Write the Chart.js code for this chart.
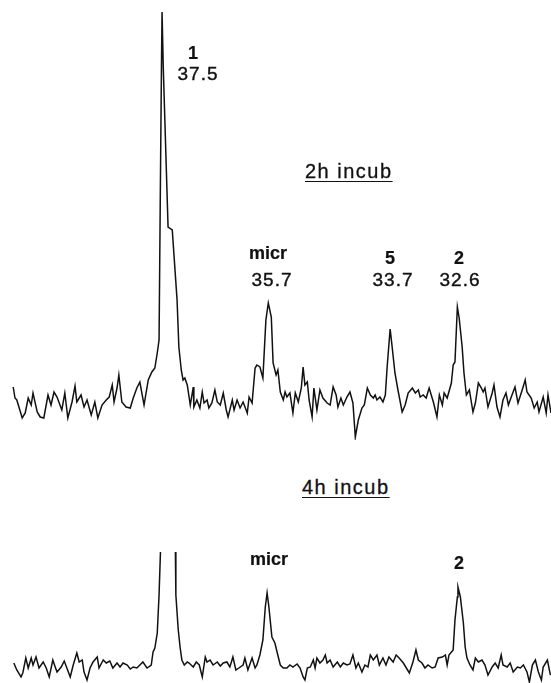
<!DOCTYPE html>
<html>
<head>
<meta charset="utf-8">
<script src="https://cdn.jsdelivr.net/npm/chart.js@4/dist/chart.umd.min.js"></script>
<style>
  body { margin: 0; background: #fff; }
  #wrap { position: relative; width: 551px; height: 683px; overflow: hidden; font-family: "Liberation Sans", Arial, sans-serif; color: #111; }
  canvas { position: absolute; left: 0; }
  #top { top: 0; }
  #bottom { top: 552px; }
  .lab { position: absolute; font-size: 19px; line-height: 19px; letter-spacing: 1px; text-align: center; width: 80px; white-space: nowrap; -webkit-text-stroke: 0.4px #111; }
  .b { font-weight: bold; font-size: 18px; letter-spacing: 0; -webkit-text-stroke: 0.2px #111; }
  .title { position: absolute; font-size: 20px; line-height: 20px; letter-spacing: 1.5px; text-decoration: underline; text-decoration-thickness: 1px; text-underline-offset: 3px; white-space: nowrap; -webkit-text-stroke: 0.3px #111; }
</style>
</head>
<body>
<div id="wrap">
  <canvas id="top" width="551" height="440"></canvas>
  <canvas id="bottom" width="551" height="131"></canvas>

  <div class="lab b" style="left:153px;top:44px">1</div>
  <div class="lab" style="left:158px;top:64px">37.5</div>
  <div class="title" style="left:305px;top:161px">2h incub</div>
  <div class="lab b" style="left:228px;top:244px">micr</div>
  <div class="lab" style="left:232px;top:270px">35.7</div>
  <div class="lab b" style="left:350px;top:249px">5</div>
  <div class="lab" style="left:353px;top:270px">33.7</div>
  <div class="lab b" style="left:419px;top:249px">2</div>
  <div class="lab" style="left:420px;top:270px">32.6</div>

  <div class="title" style="left:302px;top:477px">4h incub</div>
  <div class="lab b" style="left:229px;top:550px">micr</div>
  <div class="lab b" style="left:419px;top:554px">2</div>
</div>

<script>
// chemical shift (ppm) and intensity, 2h incubation
const topPpm = [
  39.98, 39.95, 39.92, 39.83, 39.78, 39.73, 39.68, 39.65, 39.58, 39.53,
  39.47, 39.40, 39.35, 39.30, 39.25, 39.17, 39.12, 39.07, 39.00, 38.95,
  38.92, 38.85, 38.80, 38.75, 38.68, 38.62, 38.57, 38.50, 38.43, 38.38,
  38.33, 38.30, 38.25, 38.22, 38.17, 38.10, 38.03, 37.98, 37.92, 37.87,
  37.80, 37.73, 37.67, 37.62, 37.58, 37.55, 37.53, 37.51, 37.50, 37.48,
  37.40, 37.33, 37.25, 37.22, 37.18, 37.15, 37.12, 37.08, 37.03, 36.98,
  36.97, 36.92, 36.87, 36.83, 36.80, 36.75, 36.72, 36.67, 36.62, 36.58,
  36.53, 36.48, 36.43, 36.40, 36.33, 36.30, 36.25, 36.20, 36.15, 36.08,
  36.05, 36.00, 35.95, 35.92, 35.87, 35.82, 35.77, 35.73, 35.68, 35.65,
  35.60, 35.57, 35.53, 35.48, 35.45, 35.42, 35.37, 35.32, 35.28, 35.23,
  35.18, 35.15, 35.12, 35.08, 35.05, 35.00, 34.97, 34.92, 34.87, 34.82,
  34.75, 34.70, 34.65, 34.60, 34.57, 34.52, 34.48, 34.42, 34.37, 34.32,
  34.28, 34.23, 34.17, 34.13, 34.08, 34.03, 33.98, 33.95, 33.92, 33.87,
  33.82, 33.78, 33.75, 33.70, 33.67, 33.62, 33.57, 33.50, 33.45, 33.40,
  33.33, 33.28, 33.23, 33.20, 33.15, 33.10, 33.05, 32.98, 32.92, 32.88,
  32.83, 32.80, 32.75, 32.68, 32.65, 32.62, 32.58, 32.55, 32.50, 32.47,
  32.43, 32.38, 32.32, 32.28, 32.23, 32.18, 32.15, 32.12, 32.07, 32.00,
  31.97, 31.92, 31.87, 31.82, 31.77, 31.73, 31.67, 31.62, 31.57, 31.50,
  31.45, 31.42, 31.35, 31.30, 31.25, 31.22, 31.15, 31.10, 31.07, 31.02
]
const topInt = [
  53, 42, 40, 22, 27, 42, 35, 47, 28, 23,
  22, 45, 35, 48, 43, 30, 47, 22, 38, 54,
  38, 45, 33, 40, 25, 38, 22, 35, 40, 43,
  55, 38, 52, 65, 38, 33, 32, 42, 52, 58,
  35, 60, 68, 72, 87, 100, 240, 373, 428, 373,
  213, 210, 140, 93, 70, 60, 62, 55, 35, 53,
  33, 40, 32, 48, 37, 40, 32, 37, 50, 38,
  35, 47, 30, 23, 40, 30, 40, 32, 38, 27,
  43, 37, 72, 75, 73, 62, 120, 137, 123, 77,
  65, 70, 48, 40, 48, 43, 47, 27, 47, 38,
  52, 73, 55, 58, 40, 23, 52, 30, 50, 42,
  37, 35, 53, 45, 33, 42, 35, 43, 48, 37,
  3, 20, 32, 35, 52, 45, 42, 45, 40, 43,
  38, 45, 73, 111, 95, 67, 50, 28, 35, 47,
  52, 47, 50, 43, 45, 42, 52, 38, 23, 45,
  35, 47, 42, 57, 75, 78, 133, 122, 93, 67,
  45, 50, 28, 37, 57, 52, 48, 52, 33, 47,
  55, 33, 23, 40, 47, 35, 45, 53, 37, 50,
  60, 48, 42, 32, 38, 28, 43, 27, 45, 27
]

// 4h incubation, main peak runs off the top
const bottomPpm = [
  39.97, 39.92, 39.85, 39.82, 39.77, 39.73, 39.68, 39.65, 39.60, 39.55,
  39.48, 39.43, 39.38, 39.32, 39.28, 39.25, 39.18, 39.13, 39.08, 39.03,
  38.98, 38.92, 38.88, 38.83, 38.80, 38.75, 38.70, 38.65, 38.58, 38.55,
  38.48, 38.43, 38.37, 38.32, 38.25, 38.20, 38.15, 38.08, 38.03, 37.98,
  37.92, 37.87, 37.82, 37.75, 37.68, 37.65, 37.62, 37.58, 37.55, 37.52,
  37.42, 37.28, 37.27, 37.23, 37.20, 37.17, 37.13, 37.08, 37.05, 36.98,
  36.93, 36.88, 36.83, 36.78, 36.75, 36.70, 36.65, 36.58, 36.53, 36.48,
  36.42, 36.37, 36.32, 36.27, 36.22, 36.15, 36.12, 36.07, 36.00, 35.95,
  35.92, 35.87, 35.82, 35.78, 35.75, 35.72, 35.67, 35.62, 35.58, 35.53,
  35.48, 35.42, 35.37, 35.32, 35.25, 35.20, 35.15, 35.12, 35.08, 35.03,
  34.98, 34.95, 34.92, 34.87, 34.82, 34.78, 34.75, 34.70, 34.65, 34.58,
  34.53, 34.48, 34.42, 34.37, 34.32, 34.27, 34.23, 34.17, 34.12, 34.07,
  34.03, 33.98, 33.92, 33.88, 33.82, 33.77, 33.72, 33.65, 33.60, 33.55,
  33.48, 33.43, 33.38, 33.32, 33.27, 33.23, 33.17, 33.12, 33.07, 33.00,
  32.95, 32.90, 32.83, 32.78, 32.75, 32.72, 32.65, 32.62, 32.58, 32.57,
  32.53, 32.48, 32.45, 32.42, 32.37, 32.32, 32.28, 32.23, 32.17, 32.12,
  32.07, 32.00, 31.95, 31.90, 31.85, 31.82, 31.75, 31.70, 31.65, 31.58,
  31.53, 31.48, 31.42, 31.38, 31.33, 31.28, 31.23, 31.18, 31.15, 31.08,
  31.03
]
const bottomInt = [
  20, 13, 6, 10, 25, 15, 25, 18, 26, 15,
  21, 15, 6, 23, 16, 11, 16, 22, 14, 6,
  18, 30, 21, 23, 11, 3, 15, 21, 26, 15,
  23, 20, 22, 15, 20, 16, 20, 18, 14, 16,
  15, 18, 21, 15, 18, 31, 35, 50, 88, 143,
  420, 143, 88, 53, 36, 23, 18, 21, 20, 16,
  21, 18, 6, 26, 21, 23, 18, 21, 17, 20,
  21, 16, 26, 13, 15, 18, 25, 13, 25, 15,
  18, 28, 43, 76, 90, 76, 46, 40, 30, 18,
  15, 15, 18, 16, 19, 15, 6, 3, 15, 16,
  23, 15, 25, 20, 23, 28, 20, 23, 16, 21,
  16, 20, 18, 19, 28, 15, 20, 11, 18, 16,
  28, 23, 28, 18, 25, 18, 26, 21, 28, 25,
  20, 15, 10, 21, 33, 23, 20, 15, 18, 15,
  16, 25, 26, 28, 18, 28, 33, 63, 86, 96,
  86, 60, 36, 25, 18, 13, 25, 21, 23, 18,
  8, 16, 20, 15, 28, 18, 16, 20, 11, 16,
  15, 18, 11, 1, 18, 23, 11, 3, 16, 23,
  8
]

function makeConfig(ppm, intensity, yMax) {
  return {
    type: 'line',
    data: {
      datasets: [{
        data: ppm.map((p, i) => ({ x: p, y: intensity[i] })),
        borderColor: '#111',
        borderWidth: 1.5,
        pointRadius: 0,
        tension: 0,
        fill: false,
        clip: 0
      }]
    },
    options: {
      responsive: false,
      animation: false,
      devicePixelRatio: 1,
      layout: { padding: 0 },
      plugins: { legend: { display: false }, tooltip: { enabled: false } },
      scales: {
        x: { type: 'linear', reverse: true, min: 31.02, max: 40.2, display: false },
        y: { min: 0, max: yMax, display: false }
      }
    }
  }
}

new Chart(document.getElementById('top'), makeConfig(topPpm, topInt, 440))
new Chart(document.getElementById('bottom'), makeConfig(bottomPpm, bottomInt, 131))
</script>
</body>
</html>
